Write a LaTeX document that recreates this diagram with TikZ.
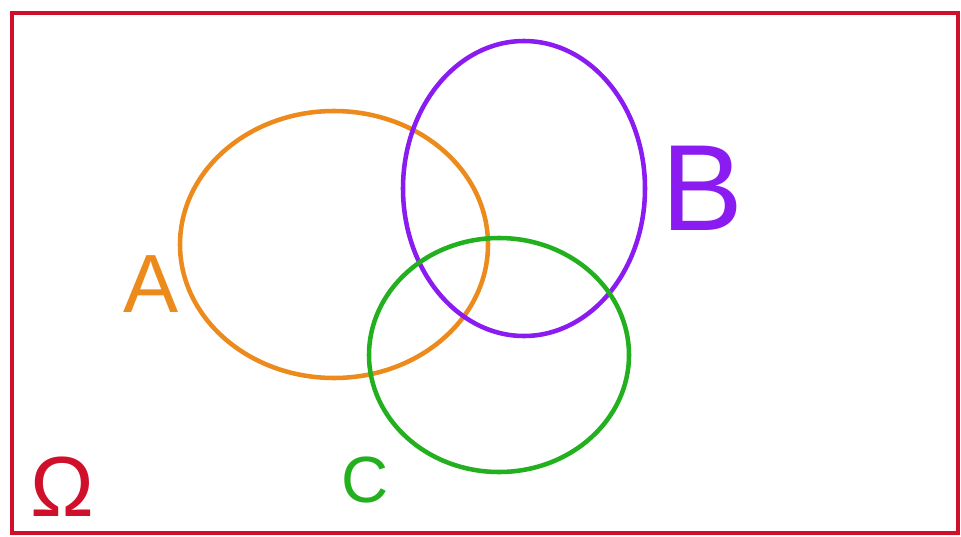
\documentclass[tikz,border=0pt]{standalone}
\usepackage{fontspec}
\setmainfont{Liberation Sans}
\usepackage{xcolor}
\definecolor{omegared}{HTML}{D0102A}
\definecolor{setorange}{HTML}{EC8A1C}
\definecolor{setpurple}{HTML}{8A1CF2}
\definecolor{setgreen}{HTML}{22B01E}

\begin{document}
\begin{tikzpicture}[x=0.75pt, y=-0.75pt,
    setline/.style={line width=3.4pt},
    setlbl/.style={anchor=base, inner sep=0pt}]
    \useasboundingbox (0,0) rectangle (961,536);
    % universe
    \draw[omegared, line width=3.6pt] (12,13) rectangle (958,533);
    \node[setlbl, text=omegared, font=\fontsize{64}{66}\selectfont] (omega) at (62,516) {Ω};
    % sets
    \draw[setline, setorange] (334,244.5) ellipse [x radius=154, y radius=133.5];
    \draw[setline, setpurple] (524,188.5) ellipse [x radius=121, y radius=147.5];
    \draw[setline, setgreen] (499,355) ellipse [x radius=130, y radius=117];
    \node[setlbl, text=setorange, font=\fontsize{62}{64}\selectfont] (lblA) at (151,312) {A};
    \node[setlbl, text=setpurple, font=\fontsize{92}{96}\selectfont] (lblB) at (702,230) {B};
    \node[setlbl, text=setgreen, font=\fontsize{49}{52}\selectfont] (lblC) at (365,502) {C};
\end{tikzpicture}
\end{document}
